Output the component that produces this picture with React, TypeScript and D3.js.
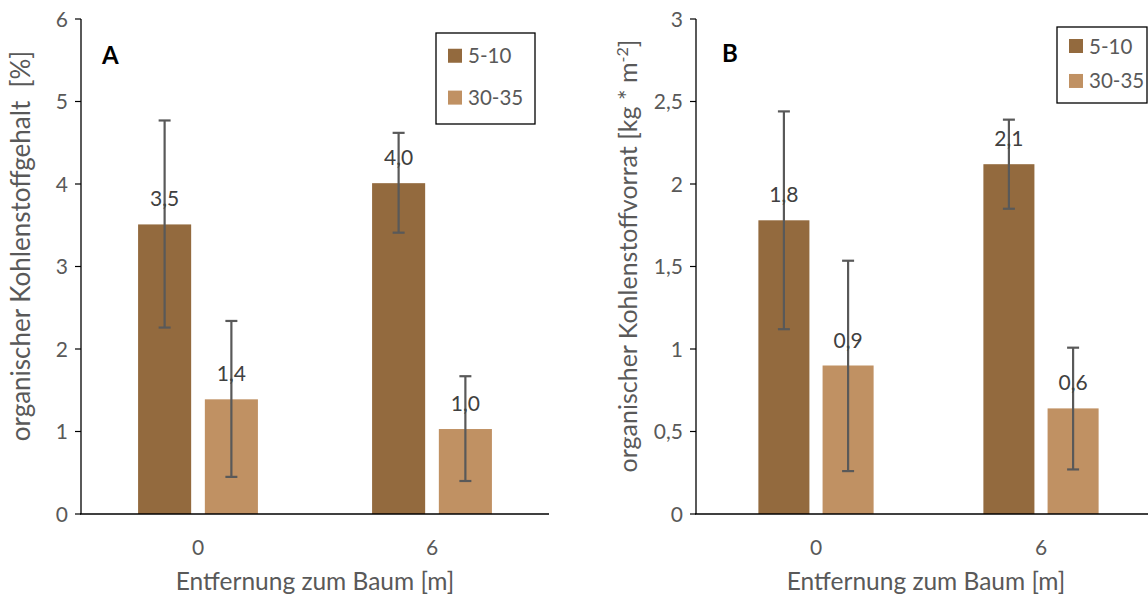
import React from "react";
import * as d3 from "d3";

const categories = ["0", "6"];
const seriesNames = ["5-10", "30-35"];

const aValues510 = [3.51, 4.01];
const aValues3035 = [1.39, 1.03];
const aErrLow510 = [2.26, 3.41];
const aErrHigh510 = [4.77, 4.62];
const aErrLow3035 = [0.45, 0.40];
const aErrHigh3035 = [2.34, 1.67];
const aTicks = [0, 1, 2, 3, 4, 5, 6];

const bValues510 = [1.78, 2.12];
const bValues3035 = [0.9, 0.64];
const bErrLow510 = [1.12, 1.85];
const bErrHigh510 = [2.44, 2.39];
const bErrLow3035 = [0.26, 0.27];
const bErrHigh3035 = [1.535, 1.008];
const bTicks = [0, 0.5, 1, 1.5, 2, 2.5, 3];

const colors = ["#936A3E", "#C09163"];
const textColor = "#595959";
const FONT = "Lato, 'Open Sans', sans-serif";

type PanelProps = {
  letter: string;
  letterX: number;
  letterY: number;
  axisX: number;
  axisRight: number;
  bandRange: [number, number];
  yMax: number;
  ticks: number[];
  values: number[][];
  errLow: number[][];
  errHigh: number[][];
  yTitle: React.ReactNode;
  yTitleX: number;
  yTitleY: number;
  yTitleSize: number;
  legendX: number;
  legendY: number;
  legendW: number;
  legendH: number;
  xTitleX: number;
};

const fmt = (v: number) => d3.format(".1f")(v).replace(".", ",");
const fmtTick = (v: number) => String(v).replace(".", ",");

function Panel(p: PanelProps) {
  const top = 19;
  const bottom = 514;
  const y = d3.scaleLinear().domain([0, p.yMax]).range([bottom, top]);
  const x0 = d3.scaleBand<string>().domain(categories).range(p.bandRange).padding(0);
  const x1 = d3
    .scaleBand<string>()
    .domain(seriesNames)
    .range([0, x0.bandwidth()])
    .paddingInner(0.205)
    .paddingOuter(0.855);
  return (
    <g>
      {seriesNames.map((s, si) =>
        categories.map((c, ci) => {
          const bx = (x0(c) as number) + (x1(s) as number);
          const v = p.values[si][ci];
          return (
            <rect
              key={s + c}
              x={bx}
              y={y(v)}
              width={x1.bandwidth()}
              height={y(0) - y(v)}
              fill={colors[si]}
            />
          );
        })
      )}
      {seriesNames.map((s, si) =>
        categories.map((c, ci) => {
          const cx = (x0(c) as number) + (x1(s) as number) + x1.bandwidth() / 2;
          const lo = y(p.errLow[si][ci]);
          const hi = y(p.errHigh[si][ci]);
          return (
            <g key={"e" + s + c} stroke="#595959" strokeWidth={2.2}>
              <line x1={cx} x2={cx} y1={lo} y2={hi} />
              <line x1={cx - 6} x2={cx + 6} y1={lo} y2={lo} />
              <line x1={cx - 6} x2={cx + 6} y1={hi} y2={hi} />
            </g>
          );
        })
      )}
      {seriesNames.map((s, si) =>
        categories.map((c, ci) => {
          const cx = (x0(c) as number) + (x1(s) as number) + x1.bandwidth() / 2;
          const v = p.values[si][ci];
          return (
            <text
              key={"l" + s + c}
              x={cx}
              y={y(v) - 18}
              textAnchor="middle"
              fontSize={21}
              fill="#404040"
              fontFamily={FONT}
            >
              {fmt(v)}
            </text>
          );
        })
      )}
      <line x1={p.axisX} x2={p.axisX} y1={top} y2={bottom} stroke="#000" strokeWidth={1.3} />
      <line x1={p.axisX - 1} x2={p.axisRight} y1={bottom} y2={bottom} stroke="#000" strokeWidth={1.5} />
      {p.ticks.map((t) => (
        <g key={"t" + t}>
          <line x1={p.axisX - 6} x2={p.axisX} y1={y(t)} y2={y(t)} stroke="#000" strokeWidth={1.2} />
          <text
            x={p.axisX - 13}
            y={y(t) + 7.5}
            textAnchor="end"
            fontSize={21}
            fill={textColor}
            fontFamily={FONT}
          >
            {fmtTick(t)}
          </text>
        </g>
      ))}
      {categories.map((c) => (
        <text
          key={"x" + c}
          x={(x0(c) as number) + x0.bandwidth() / 2}
          y={555}
          textAnchor="middle"
          fontSize={21}
          fill={textColor}
          fontFamily={FONT}
        >
          {c}
        </text>
      ))}
      <text x={p.xTitleX} y={590} textAnchor="middle" fontSize={24.5} fill={textColor} fontFamily={FONT}>
        Entfernung zum Baum [m]
      </text>
      <text
        transform={`translate(${p.yTitleX},${p.yTitleY}) rotate(-90)`}
        textAnchor="middle"
        fontSize={p.yTitleSize}
        fill={textColor}
        fontFamily={FONT}
        style={{ whiteSpace: "pre" }}
      >
        {p.yTitle}
      </text>
      <text x={p.letterX} y={p.letterY} fontSize={24} fontWeight="bold" fill="#000" fontFamily={FONT}>
        {p.letter}
      </text>
      <rect
        x={p.legendX}
        y={p.legendY}
        width={p.legendW}
        height={p.legendH}
        fill="#fff"
        stroke="#000"
        strokeWidth={1.3}
      />
      {seriesNames.map((s, si) => {
        const ly = p.legendY + p.legendH * (si === 0 ? 0.25 : 0.71);
        return (
          <g key={"lg" + s}>
            <rect x={p.legendX + 12} y={ly - 7} width={14} height={14} fill={colors[si]} />
            <text x={p.legendX + 32} y={ly + 7.5} fontSize={20.5} fill={textColor} fontFamily={FONT}>
              {s}
            </text>
          </g>
        );
      })}
    </g>
  );
}

export default function App() {
  return (
    <svg
      width={1148}
      height={601}
      style={{ position: "absolute", left: 0, top: 0, background: "#fff" }}
    >
      <rect width={1148} height={601} fill="#fff" />
      <Panel
        letter="A"
        letterX={102}
        letterY={64}
        axisX={81}
        axisRight={549}
        bandRange={[81, 549]}
        yMax={6}
        ticks={aTicks}
        values={[aValues510, aValues3035]}
        errLow={[aErrLow510, aErrLow3035]}
        errHigh={[aErrHigh510, aErrHigh3035]}
        yTitle="organischer Kohlenstoffgehalt  [%]"
        yTitleX={30}
        yTitleY={246}
        yTitleSize={26}
        legendX={436}
        legendY={33}
        legendW={99}
        legendH={91}
        xTitleX={315}
      />
      <Panel
        letter="B"
        letterX={722}
        letterY={62}
        axisX={696}
        axisRight={1148}
        bandRange={[703.5, 1153.5]}
        yMax={3}
        ticks={bTicks}
        values={[bValues510, bValues3035]}
        errLow={[bErrLow510, bErrLow3035]}
        errHigh={[bErrHigh510, bErrHigh3035]}
        yTitle={
          <>
            organischer Kohlenstoffvorrat [kg * m
            <tspan dy={-9} fontSize={16}>-2</tspan>
            <tspan dy={9}>]</tspan>
          </>
        }
        yTitleX={637}
        yTitleY={256}
        yTitleSize={25}
        legendX={1057}
        legendY={27}
        legendW={90}
        legendH={76}
        xTitleX={926}
      />
    </svg>
  );
}
